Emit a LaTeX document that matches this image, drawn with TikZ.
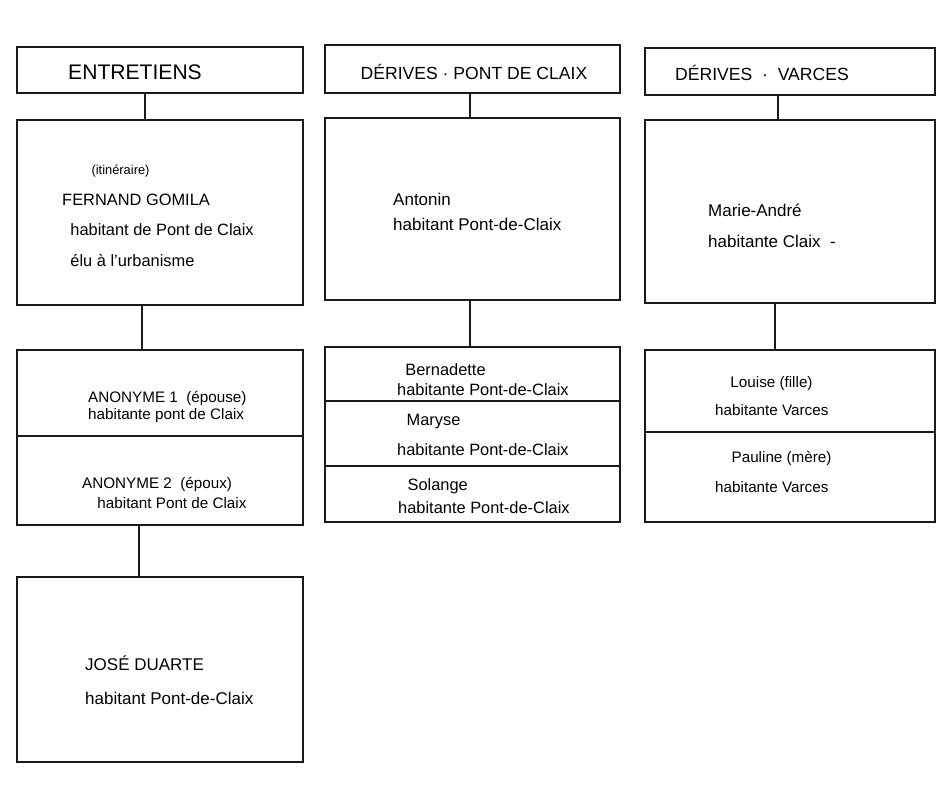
\documentclass[tikz,border=0pt]{standalone}
\usepackage{fontspec}
\setmainfont{Liberation Sans}
\usepackage{tikz}
\usetikzlibrary{positioning}

\begin{document}
\begin{tikzpicture}[
    x=0.03cm, y=-0.03cm,
    card/.style={draw=black!90, line width=1.5pt, inner sep=0pt, outer sep=0pt},
    txt/.style={align=left, inner sep=0pt, anchor=west},
    link/.style={draw=black!90, line width=1.5pt}
  ]
    \useasboundingbox (0,0) rectangle (944,802);
    % column 1
    \node[card, minimum width=8.58cm, minimum height=1.38cm] (h1) at (160,70) {};
    \node[card, minimum width=8.58cm, minimum height=5.55cm] (fernand) at (160,212.5) {};
    \node[card, minimum width=8.58cm, minimum height=2.58cm] (anon1) at (160,393) {};
    \node[card, minimum width=8.58cm, minimum height=2.67cm] (anon2) at (160,480.5) {};
    \node[card, minimum width=8.58cm, minimum height=5.55cm] (jose) at (160,669.5) {};
    \node[txt, font=\fontsize{18}{20}\selectfont] (t-h1) at (68,72) {ENTRETIENS};
    \node[txt, font=\fontsize{14}{26}\selectfont] (t-fernand) at (62,216) {\hspace*{25pt}{\fontsize{11}{12}\selectfont(itinéraire)}\\FERNAND GOMILA\\\hspace*{7pt}habitant de Pont de Claix\\\hspace*{7pt}élu à l'urbanisme};
    \node[txt, font=\fontsize{13}{15}\selectfont] (t-anon1) at (88,407) {ANONYME 1 \ (épouse)\\habitante pont de Claix};
    \node[txt, font=\fontsize{13}{17}\selectfont] (t-anon2) at (82,493) {ANONYME 2 \ (époux)\\\hspace*{13pt}habitant Pont de Claix};
    \node[txt, font=\fontsize{14.5}{29}\selectfont] (t-jose) at (85,680) {JOSÉ DUARTE\\habitant Pont-de-Claix};
    % column 2
    \node[card, minimum width=8.85cm, minimum height=1.44cm] (h2) at (472.5,69) {};
    \node[card, minimum width=8.85cm, minimum height=5.46cm] (antonin) at (472.5,209) {};
    \node[card, minimum width=8.85cm, minimum height=1.62cm] (bernadette) at (472.5,374) {};
    \node[card, minimum width=8.85cm, minimum height=1.95cm] (maryse) at (472.5,433.5) {};
    \node[card, minimum width=8.85cm, minimum height=1.68cm] (solange) at (472.5,494) {};
    \node[txt, anchor=center, font=\fontsize{15}{18}\selectfont] (t-h2) at (474,72) {DÉRIVES · PONT DE CLAIX};
    \node[txt, font=\fontsize{14.5}{22}\selectfont] (t-antonin) at (393,212) {Antonin\\habitant Pont-de-Claix};
    \node[txt, font=\fontsize{14}{17}\selectfont] (t-bernadette) at (397,380) {\hspace*{7pt}Bernadette\\habitante Pont-de-Claix};
    \node[txt, font=\fontsize{14}{25}\selectfont] (t-maryse) at (397,435) {\hspace*{8pt}Maryse\\habitante Pont-de-Claix};
    \node[txt, font=\fontsize{14}{19}\selectfont] (t-solange) at (398,496) {\hspace*{8pt}Solange\\habitante Pont-de-Claix};
    % column 3
    \node[card, minimum width=8.7cm, minimum height=1.41cm] (h3) at (790,71.5) {};
    \node[card, minimum width=8.7cm, minimum height=5.49cm] (marie) at (790,211.5) {};
    \node[card, minimum width=8.7cm, minimum height=2.46cm] (louise) at (790,391) {};
    \node[card, minimum width=8.7cm, minimum height=2.7cm] (pauline) at (790,477) {};
    \node[txt, font=\fontsize{15}{18}\selectfont] (t-h3) at (675,73) {DÉRIVES \ · \ VARCES};
    \node[txt, font=\fontsize{14.5}{27}\selectfont] (t-marie) at (708,226) {Marie-André\\habitante Claix \ -};
    \node[txt, font=\fontsize{13}{24}\selectfont] (t-louise) at (715,396) {\hspace*{13pt}Louise (fille)\\habitante Varces};
    \node[txt, font=\fontsize{13}{25}\selectfont] (t-pauline) at (715,472) {\hspace*{14pt}Pauline (mère)\\habitante Varces};
    % connectors
    \coordinate (k1) at (145,0);
    \coordinate (k2) at (142,0);
    \coordinate (k3) at (139,0);
    \coordinate (k4) at (470,0);
    \coordinate (k5) at (778,0);
    \coordinate (k6) at (775,0);
    \draw[link] (h1.south -| k1) -- (fernand.north -| k1);
    \draw[link] (fernand.south -| k2) -- (anon1.north -| k2);
    \draw[link] (anon2.south -| k3) -- (jose.north -| k3);
    \draw[link] (h2.south -| k4) -- (antonin.north -| k4);
    \draw[link] (antonin.south -| k4) -- (bernadette.north -| k4);
    \draw[link] (h3.south -| k5) -- (marie.north -| k5);
    \draw[link] (marie.south -| k6) -- (louise.north -| k6);
  \end{tikzpicture}
\end{document}
